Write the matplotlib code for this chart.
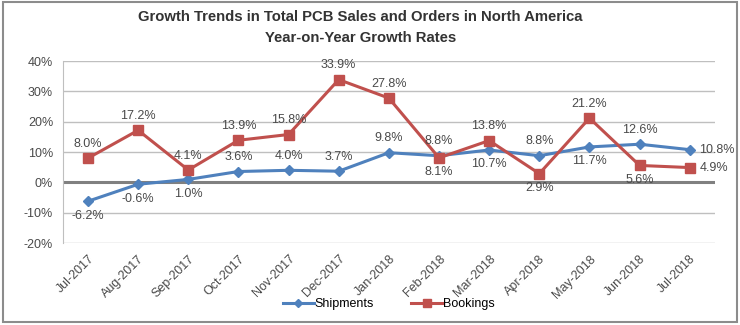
import matplotlib.pyplot as plt
from matplotlib.patches import Rectangle

plt.rcParams['font.family'] = ['Liberation Sans', 'DejaVu Sans']

# data
months = ['Jul-2017', 'Aug-2017', 'Sep-2017', 'Oct-2017', 'Nov-2017', 'Dec-2017',
          'Jan-2018', 'Feb-2018', 'Mar-2018', 'Apr-2018', 'May-2018', 'Jun-2018', 'Jul-2018']
shipments = [-6.2, -0.6, 1.0, 3.6, 4.0, 3.7, 9.8, 8.8, 10.7, 8.8, 11.7, 12.6, 10.8]
bookings = [8.0, 17.2, 4.1, 13.9, 15.8, 33.9, 27.8, 8.1, 13.8, 2.9, 21.2, 5.6, 4.9]
# label placement: 'a' above, 'b' below, 'r' right
ship_pos = ['b', 'b', 'b', 'a', 'a', 'a', 'a', 'a', 'b', 'a', 'b', 'a', 'r']
book_pos = ['a', 'a', 'a', 'a', 'a', 'a', 'a', 'b', 'a', 'b', 'a', 'b', 'r']

blue = '#4F81BD'
red = '#C0504D'
txtc = '#4A4A4A'

fig = plt.figure(figsize=(7.4, 3.25), dpi=100)
ax = fig.add_axes([0.085, 0.252, 0.881, 0.56])

x = list(range(len(months)))
ax.plot(x, shipments, color=blue, lw=2.2, marker='D', ms=5.5, label='Shipments', zorder=3)
ax.plot(x, bookings, color=red, lw=2.2, marker='s', ms=7, label='Bookings', zorder=3)

def put_labels(vals, pos):
    for i, (v, p) in enumerate(zip(vals, pos)):
        txt = f'{v:.1f}%'
        if p == 'a':
            off, ha, va = (0, 6), 'center', 'bottom'
        elif p == 'b':
            off, ha, va = (0, -6), 'center', 'top'
        else:
            off, ha, va = (7, 0), 'left', 'center'
        ax.annotate(txt, (i, v), xytext=off, textcoords='offset points',
                    ha=ha, va=va, fontsize=9, color=txtc, zorder=4)

put_labels(shipments, ship_pos)
put_labels(bookings, book_pos)

ax.set_xlim(-0.5, 12.5)
ax.set_ylim(-20, 40)
ax.set_yticks(range(-20, 41, 10))
ax.set_yticklabels([f'{t}%' for t in range(-20, 41, 10)], fontsize=9, color=txtc)
ax.set_xticks(x)
ax.set_xticklabels(months, rotation=45, ha='right', rotation_mode='anchor',
                   fontsize=9, color=txtc)
ax.tick_params(length=0, pad=7)
ax.grid(axis='y', color='#BFBFBF', lw=1)
ax.axhline(0, color='#808080', lw=2.2, zorder=2)
for s in ['top', 'right', 'bottom']:
    ax.spines[s].set_visible(False)
ax.spines['left'].set_color('#BFBFBF')

fig.suptitle('Growth Trends in Total PCB Sales and Orders in North America\nYear-on-Year Growth Rates',
             fontsize=10.7, fontweight='bold', color='#333333', x=0.487, y=0.968,
             linespacing=1.6)

ax.legend(loc='center', bbox_to_anchor=(0.5, -0.335), ncol=2, frameon=False,
          fontsize=9, columnspacing=3.0, handlelength=2.5, handletextpad=0.05,
          markerscale=0.75)

fig.patches.append(Rectangle((0.004, 0.008), 0.992, 0.985, transform=fig.transFigure,
                             fill=False, edgecolor='#8C8C8C', lw=1.5))

fig.savefig('out.png', dpi=100, facecolor='white')
